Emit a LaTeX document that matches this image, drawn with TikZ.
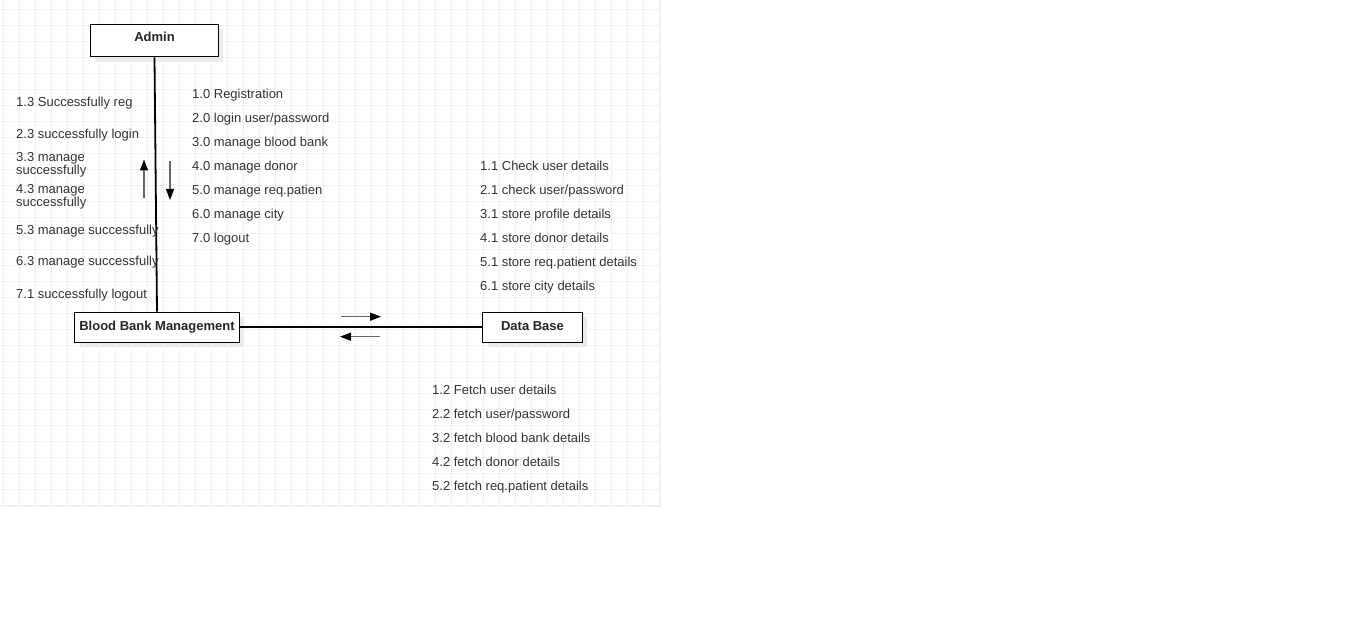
\documentclass[tikz,border=0pt]{standalone}
\usepackage{fontspec}
\setmainfont{Liberation Sans}
\usepackage{xcolor}
\usetikzlibrary{arrows.meta,shadows}
\definecolor{txtgray}{HTML}{333333}
\definecolor{gridgray}{HTML}{F0F0F0}
\definecolor{arrowgray}{HTML}{666666}
\tikzset{
  box/.style={draw=black, line width=1.3pt, fill=white, inner sep=0pt,
    font=\fontsize{13}{15}\selectfont\bfseries, text=black!85,
    text height=9.4pt, text depth=3pt,
    drop shadow={shadow xshift=5pt, shadow yshift=-5pt, fill=black!8, opacity=1}},
  lbl/.style={anchor=base west, inner sep=0pt, text=txtgray,
    font=\fontsize{13}{13.3}\selectfont, align=left},
  link/.style={draw=black, line width=1.8pt},
  msg/.style={draw=arrowgray, line width=1.3pt, -{Triangle[length=11pt,width=8pt,color=black]}}
}
\begin{document}
\begin{tikzpicture}[x=1pt,y=1pt]
\useasboundingbox (0,0) rectangle (1345,-623);
% background grid
\draw [gridgray, line width=0.8pt, step=16pt, shift={(3.7,-9.3)}] (-3.7,9.3) grid (656.3,-496.7);
\draw [gridgray, line width=0.8pt] (660,0) -- (660,-506) -- (0,-506);
% objects
\node [box, minimum width=127.6pt, minimum height=32.4pt, text depth=7pt] (admin) at (154.5,-40.5) {Admin};
\node [box, minimum width=164.6pt, minimum height=30pt] (bbm) at (157,-327.3) {Blood Bank Management};
\node [box, minimum width=99.6pt, minimum height=30pt] (db) at (532.5,-327.3) {Data Base};
% links
\draw [link] (admin.south) -- (bbm.north);
\draw [link] (bbm.east) -- (db.west);
% message arrows
\coordinate (upS) at (144,-198.5);
\coordinate (upE) at (144,-159.5);
\coordinate (dnS) at (170,-161);
\coordinate (dnE) at (170,-200);
\coordinate (rtS) at (341,-316.7);
\coordinate (rtE) at (381,-316.7);
\coordinate (ltS) at (380,-336.7);
\coordinate (ltE) at (340,-336.7);
\draw [msg] (upS) -- (upE);
\draw [msg] (dnS) -- (dnE);
\draw [msg] (rtS) -- (rtE);
\draw [msg] (ltS) -- (ltE);
% Admin -> system
\node [lbl] (m10) at (192,-98.5) {1.0 Registration};
\node [lbl] (m20) at (192,-122.5) {2.0 login user/password};
\node [lbl] (m30) at (192,-146.5) {3.0 manage blood bank};
\node [lbl] (m40) at (192,-170.5) {4.0 manage donor};
\node [lbl] (m50) at (192,-194.5) {5.0 manage req.patien};
\node [lbl] (m60) at (192,-218.5) {6.0 manage city};
\node [lbl] (m70) at (192,-242.5) {7.0 logout};
% system -> Admin
\node [lbl] (m13) at (16,-107) {1.3 Successfully reg};
\node [lbl] (m23) at (16,-138.5) {2.3 successfully login};
\node [lbl] (m33) at (16,-175) {3.3 manage\\successfully};
\node [lbl] (m43) at (16,-206.6) {4.3 manage\\successfully};
\node [lbl] (m53) at (16,-234) {5.3 manage successfully};
\node [lbl] (m63) at (16,-265.7) {6.3 manage successfully};
\node [lbl] (m71) at (16,-298.3) {7.1 successfully logout};
% system -> Data Base
\node [lbl] (m11) at (480,-170.5) {1.1 Check user details};
\node [lbl] (m21) at (480,-194.5) {2.1 check user/password};
\node [lbl] (m31) at (480,-218.5) {3.1 store profile details};
\node [lbl] (m41) at (480,-242.5) {4.1 store donor details};
\node [lbl] (m51) at (480,-266.5) {5.1 store req.patient details};
\node [lbl] (m61) at (480,-290.5) {6.1 store city details};
% Data Base -> system
\node [lbl] (m12) at (432,-394) {1.2 Fetch user details};
\node [lbl] (m22) at (432,-418) {2.2 fetch user/password};
\node [lbl] (m32) at (432,-442) {3.2 fetch blood bank details};
\node [lbl] (m42) at (432,-466) {4.2 fetch donor details};
\node [lbl] (m52) at (432,-490) {5.2 fetch req.patient details};
\end{tikzpicture}
\end{document}
